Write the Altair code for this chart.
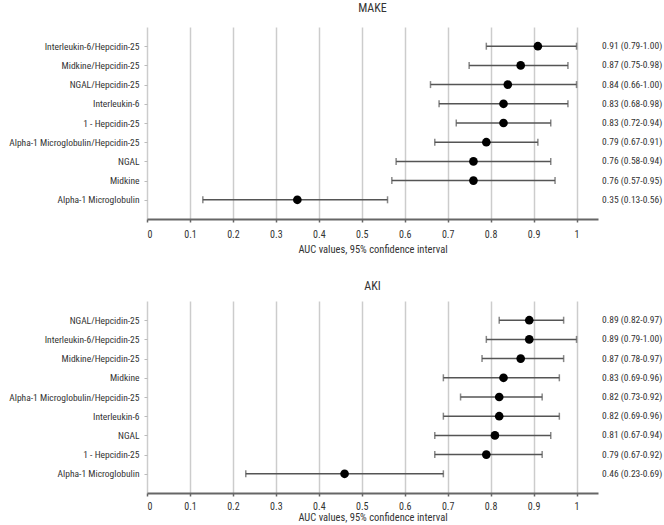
import altair as alt
import pandas as pd

# ---- data ----
make_labels = ["Interleukin-6/Hepcidin-25", "Midkine/Hepcidin-25", "NGAL/Hepcidin-25",
               "Interleukin-6", "1 - Hepcidin-25", "Alpha-1 Microglobulin/Hepcidin-25",
               "NGAL", "Midkine", "Alpha-1 Microglobulin"]
make_auc = [0.91, 0.87, 0.84, 0.83, 0.83, 0.79, 0.76, 0.76, 0.35]
make_lo = [0.79, 0.75, 0.66, 0.68, 0.72, 0.67, 0.58, 0.57, 0.13]
make_hi = [1.00, 0.98, 1.00, 0.98, 0.94, 0.91, 0.94, 0.95, 0.56]

aki_labels = ["NGAL/Hepcidin-25", "Interleukin-6/Hepcidin-25", "Midkine/Hepcidin-25",
              "Midkine", "Alpha-1 Microglobulin/Hepcidin-25", "Interleukin-6",
              "NGAL", "1 - Hepcidin-25", "Alpha-1 Microglobulin"]
aki_auc = [0.89, 0.89, 0.87, 0.83, 0.82, 0.82, 0.81, 0.79, 0.46]
aki_lo = [0.82, 0.79, 0.78, 0.69, 0.73, 0.69, 0.67, 0.67, 0.23]
aki_hi = [0.97, 1.00, 0.97, 0.96, 0.92, 0.96, 0.94, 0.92, 0.69]

x_ticks = [round(i * 0.05, 2) for i in range(21)]

FONT = "Roboto Condensed"
TXT = "#333333"


def panel(title, labels, auc, lo, hi, title_offset, lab_pad, ttl_pad):
    df = pd.DataFrame({"label": labels, "auc": auc, "lo": lo, "hi": hi})
    df["txt"] = [f"{a:.2f} ({l:.2f}-{h:.2f})" for a, l, h in zip(auc, lo, hi)]

    y = alt.Y("label:N", sort=labels, title=None,
              scale=alt.Scale(type="point", padding=1),
              axis=alt.Axis(labelFont=FONT, labelFontSize=9.5, labelColor=TXT,
                            domain=False, tickColor="#bbbbbb", tickSize=3,
                            labelPadding=5, minExtent=142, maxExtent=142))
    xaxis = alt.Axis(values=x_ticks, format="~g",
                     labelExpr="round(datum.value*20) % 2 == 0 ? datum.label : ''",
                     labelFont=FONT, labelFontSize=10, labelColor=TXT, labelPadding=lab_pad,
                     title="AUC values, 95% confidence interval",
                     titleFont=FONT, titleFontSize=10.5, titleFontWeight="normal",
                     titleColor=TXT, titlePadding=ttl_pad,
                     domainColor="#666666", domainWidth=2,
                     tickColor="#666666", tickSize=3, tickWidth=1.5,
                     grid=True, gridColor="#cccccc", gridWidth=1.5,
                     gridOpacity={"condition": {"test": "round(datum.value*20) % 2 == 0", "value": 1},
                                  "value": 0})
    xs = alt.Scale(domain=[0, 1.05], nice=False, zero=False)

    base = alt.Chart(df)
    rule = base.mark_rule(color="#555555", strokeWidth=1.5).encode(
        x=alt.X("lo:Q", scale=xs, axis=xaxis), x2="hi:Q", y=y)
    cap_lo = base.mark_tick(color="#555555", thickness=1.5, size=7).encode(x="lo:Q", y=y)
    cap_hi = base.mark_tick(color="#555555", thickness=1.5, size=7).encode(x="hi:Q", y=y)
    pt = base.mark_circle(color="black", opacity=1, size=75).encode(x="auc:Q", y=y)
    txt = base.mark_text(align="left", baseline="middle", font=FONT, fontSize=9.5,
                         color=TXT).encode(x=alt.value(455), y=y, text="txt:N")
    return alt.layer(rule, cap_lo, cap_hi, pt, txt).properties(
        width=451, height=192,
        title=alt.TitleParams(title, font=FONT, fontSize=12, fontWeight="normal",
                              color=TXT, anchor="middle", offset=title_offset))


chart = alt.vconcat(
    panel("MAKE", make_labels, make_auc, make_lo, make_hi, 12, 7, 5),
    panel("AKI", aki_labels, aki_auc, aki_lo, aki_hi, 8, 5, 1),
    spacing=25,
).configure_view(stroke=None).properties(
    padding={"left": 5, "top": 2, "right": 0, "bottom": 0},
    background="white",
)

chart.save("out.html", embed_options={"renderer": "svg", "actions": False})
